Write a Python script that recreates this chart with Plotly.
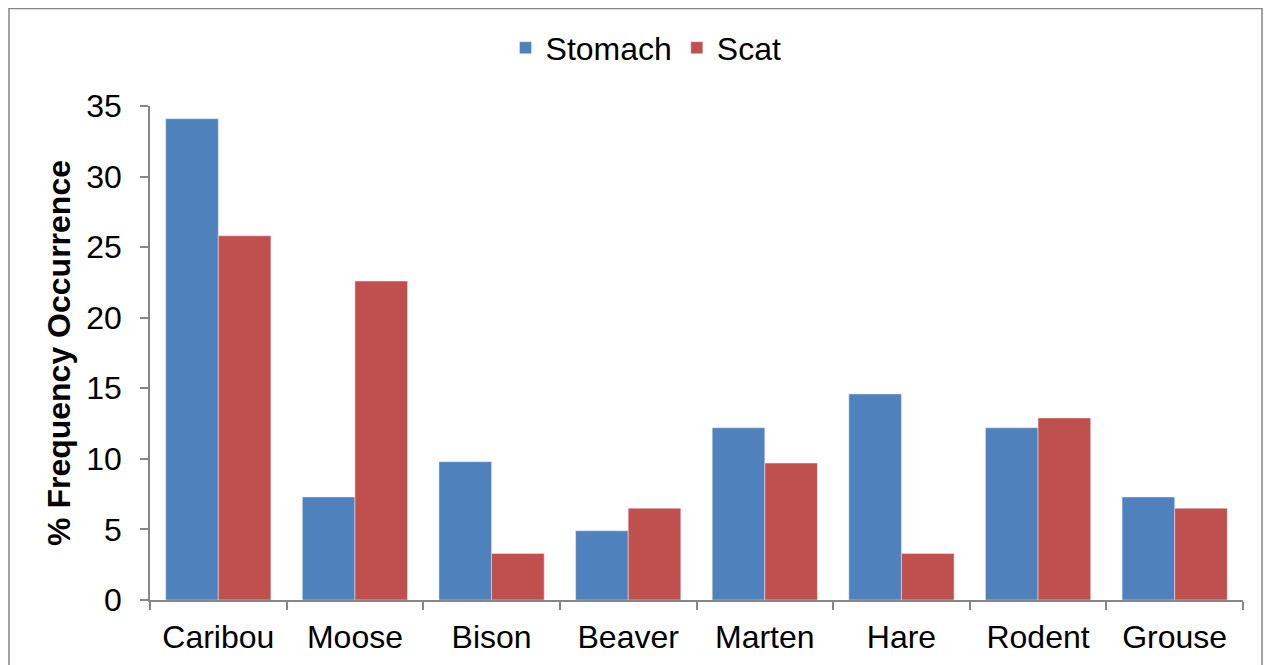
import plotly.graph_objects as go

categories = ["Caribou", "Moose", "Bison", "Beaver", "Marten", "Hare", "Rodent", "Grouse"]
stomach = [34.1, 7.3, 9.8, 4.9, 12.2, 14.6, 12.2, 7.3]
scat = [25.8, 22.6, 3.3, 6.5, 9.7, 3.3, 12.9, 6.5]

FONT = "Liberation Sans, Arial, sans-serif"
FS = 32
fig = go.Figure()
fig.add_trace(go.Bar(name="Stomach", x=categories, y=stomach, marker_color="#4F81BD"))
fig.add_trace(go.Bar(name="Scat", x=categories, y=scat, marker_color="#C0504D"))

fig.update_layout(
    width=1271, height=665,
    barmode="group", bargap=0.23, bargroupgap=0,
    plot_bgcolor="white", paper_bgcolor="white",
    margin=dict(l=142, r=36, t=98, b=73, autoexpand=False),
    font=dict(family=FONT, size=FS, color="black"),
    legend=dict(orientation="h", x=0.502, xref="container", xanchor="center",
                y=0.94, yref="container", yanchor="middle",
                font=dict(size=FS), traceorder="normal"),
    showlegend=True,
)
fig.update_xaxes(
    automargin=False,
    showline=True, linecolor="#868686", linewidth=1.5,
    ticks="outside", tickson="boundaries", ticklen=8, tickcolor="#868686", tickwidth=1.5,
    ticklabelstandoff=8,
    tickfont=dict(size=FS, family=FONT),
)
fig.update_yaxes(
    automargin=False,
    range=[0, 35], dtick=5, showgrid=False, zeroline=False,
    showline=True, linecolor="#868686", linewidth=1.5,
    ticks="outside", ticklen=8, tickcolor="#868686", tickwidth=1.5,
    ticklabelstandoff=12,
    tickfont=dict(size=FS, family=FONT),
    title=dict(text="<b>% Frequency Occurrence</b>", font=dict(size=FS, family=FONT), standoff=6),
)
fig.add_shape(type="rect", xref="paper", yref="paper",
              x0=-0.129, x1=1.0174, y0=-0.2, y1=1.1974,
              line=dict(color="#868686", width=1.5), fillcolor="rgba(0,0,0,0)", layer="below")
fig.write_html("out.html")
